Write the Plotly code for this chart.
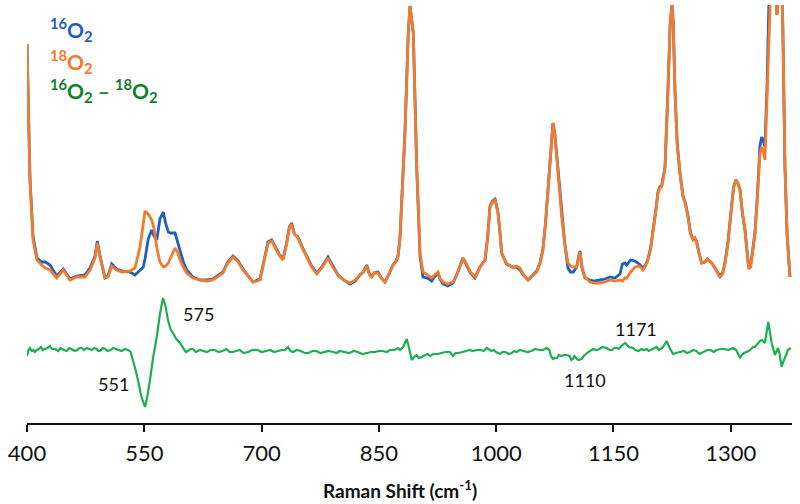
import plotly.graph_objects as go

# Raman shift grid (cm-1) shared by the two spectra
SHIFT = [400.0, 401.3, 403.8, 407.7, 412.8, 418.8, 423.5, 429.4, 434.0, 438.0, 446.4, 455.0, 463.6, 474.2,
         480.6, 487.0, 489.9, 493.4, 499.7, 503.6, 508.3, 514.7, 521.1, 531.7, 538.1, 544.5, 548.7, 550.9,
         555.0, 559.5, 562.5, 565.9, 570.0, 574.3, 577.5, 580.7, 583.5, 589.3, 592.5, 595.7, 600.0, 604.2,
         612.0, 621.2, 630.0, 637.9, 650.6, 656.0, 663.4, 670.0, 676.2, 689.0, 698.0, 703.0, 708.2, 712.9,
         718.0, 723.0, 727.4, 732.0, 735.5, 738.5, 742.0, 746.5, 752.0, 757.7, 764.0, 770.5, 777.0, 784.9,
         791.0, 797.7, 805.0, 813.0, 820.0, 825.8, 830.0, 834.4, 838.0, 840.8, 844.0, 848.8, 853.0, 857.8,
         863.0, 868.0, 872.0, 874.4, 876.9, 880.8, 883.4, 887.6, 889.8, 894.0, 898.4, 902.6, 906.4, 912.0,
         917.5, 921.0, 925.6, 928.0, 932.0, 938.0, 944.8, 951.0, 957.5, 962.0, 967.0, 972.9, 979.3, 985.7,
         989.0, 992.1, 995.5, 998.5, 1002.3, 1005.0, 1007.0, 1013.0, 1021.5, 1026.0, 1030.4, 1035.0, 1040.7,
         1046.0, 1051.8, 1056.0, 1059.8, 1063.0, 1066.2, 1069.5, 1072.6, 1075.0, 1077.4, 1080.5, 1083.8,
         1087.5, 1091.8, 1095.0, 1098.6, 1102.9, 1105.3, 1107.2, 1110.0, 1113.6, 1119.9, 1126.0, 1132.7,
         1139.0, 1145.5, 1152.0, 1158.3, 1161.5, 1164.7, 1166.9, 1172.0, 1177.5, 1183.0, 1187.7, 1191.0,
         1194.1, 1197.5, 1200.5, 1204.0, 1206.9, 1209.0, 1211.6, 1215.9, 1219.7, 1222.5, 1224.8, 1226.5,
         1228.6, 1231.5, 1235.0, 1238.9, 1242.0, 1245.3, 1248.5, 1251.7, 1254.0, 1256.4, 1259.5, 1262.8,
         1267.0, 1270.0, 1275.6, 1280.0, 1283.5, 1286.2, 1289.5, 1292.5, 1296.4, 1300.5, 1303.5, 1306.5,
         1309.5, 1311.8, 1315.0, 1318.0, 1320.4, 1323.0, 1325.5, 1328.0, 1331.0, 1334.0, 1337.3, 1339.5,
         1341.6, 1343.7, 1346.5, 1349.0, 1353.0, 1356.5, 1359.1, 1361.5, 1364.0, 1366.5, 1369.3, 1372.0,
         1375.7]

I_18O2 = [380, 324, 244, 184, 164, 159, 156, 154, 150, 146, 154, 144, 147, 147,
          154, 166, 181, 167, 146, 147, 158, 154, 152, 153, 156, 177, 200, 213,
          210, 204, 195, 177, 162, 157, 158, 161, 166, 176, 172, 164, 157, 151,
          146, 144, 143, 144, 151, 160, 167, 162, 154, 142, 144, 162, 181, 183,
          176, 168, 164, 180, 196, 200, 190, 186, 176, 167, 157, 150, 156, 166,
          157, 149, 144, 141, 144, 149, 152, 158, 149, 147, 151, 151, 146, 142,
          150, 159, 162, 167, 184, 241, 291, 391, 418, 391, 257, 171, 152, 149,
          146, 149, 152, 146, 142, 140, 142, 152, 166, 160, 152, 147, 157, 164,
          185, 217, 222, 224, 211, 190, 171, 161, 156, 158, 156, 149, 144,
          148, 152, 160, 174, 200, 234, 275, 301, 290, 267, 238, 207,
          181, 161, 158, 157, 157, 166, 172, 155, 147, 142, 141, 141,
          142, 144, 143, 144, 143, 146, 146, 152, 157, 158, 154, 158,
          164, 175, 191, 212, 231, 236, 237, 256, 334, 400, 420, 400,
          334, 280, 251, 227, 220, 207, 190, 184, 186, 181, 170, 161,
          162, 165, 161, 156, 150, 147, 150, 160, 181, 215, 236, 244,
          240, 234, 210, 195, 172, 155, 157, 170, 190, 225, 270, 277,
          273, 264, 340, 430, 480, 440, 409, 440, 470, 400, 257, 190,
          147]

I_16O2 = [380, 324, 246, 188, 166, 162, 162, 159, 153, 148, 155, 145, 148, 149,
          156, 168, 183, 168, 146, 148, 160, 155, 153, 152, 149, 154, 157, 165,
          185, 194, 188, 184, 205, 212, 200, 192, 191, 191, 182, 174, 162, 154,
          147, 144, 144, 145, 152, 161, 168, 163, 155, 142, 145, 163, 182, 184,
          177, 169, 165, 181, 197, 201, 190, 187, 177, 168, 158, 151, 157, 167,
          158, 149, 144, 140, 143, 149, 152, 159, 150, 148, 151, 152, 146, 142,
          150, 159, 163, 168, 185, 242, 293, 392, 418, 391, 256, 168, 147, 146,
          143, 147, 151, 145, 140, 138, 141, 152, 166, 159, 151, 146, 157, 164,
          186, 218, 223, 225, 212, 190, 171, 160, 157, 157, 154, 149, 144,
          148, 153, 161, 175, 200, 234, 275, 301, 290, 268, 239, 208,
          182, 156, 152, 152, 157, 167, 173, 155, 146, 144, 143, 144,
          145, 147, 146, 150, 160, 161, 159, 164, 163, 160, 156, 159,
          165, 176, 192, 213, 232, 237, 238, 257, 335, 400, 420, 400,
          334, 280, 251, 228, 221, 208, 191, 185, 186, 182, 171, 161,
          162, 165, 161, 156, 151, 148, 151, 161, 182, 216, 237, 244,
          240, 234, 210, 195, 172, 156, 159, 172, 192, 228, 278, 287,
          283, 277, 342, 430, 480, 440, 409, 440, 470, 400, 257, 190,
          147]

# Difference spectrum (16O2 - 18O2), offset
DIFF_SHIFT = [400, 402, 403.8, 406, 408, 410, 412.4, 415, 418, 420,
              423, 426, 429.4, 432, 436, 440, 443, 447, 450.8, 454,
              457, 461, 464, 467, 470, 473, 476.3, 480, 483, 486,
              489, 491, 493.4, 497, 500, 503, 507, 510, 514.7, 518,
              521, 525, 529.2, 532.5, 535.6, 538.5, 541.9, 546, 550.9, 554,
              557.3, 561, 565.9, 570, 574, 577, 580.3, 583.5, 586.7, 591,
              595.7, 600, 603, 605.9, 609, 612, 616, 621.2, 625, 630,
              635, 640, 645, 650, 655, 659, 663.4, 668, 672, 677,
              683, 688, 695, 700, 706.5, 711, 716, 721, 726, 730,
              733.8, 737, 740.2, 745, 750, 755, 760, 765, 770, 775,
              780, 786, 791.3, 796, 800, 806, 812, 818, 823, 829,
              834.4, 840, 845, 850, 855, 860, 864.2, 870, 874.4, 877,
              881, 885.6, 888, 892, 895, 898.3, 901, 905, 909, 912,
              916, 919.2, 925, 930, 935, 940.9, 944.8, 948, 952, 957,
              962.3, 966, 970, 975, 980, 984, 987.9, 991, 994, 997,
              1000, 1004.9, 1008, 1012, 1016, 1020, 1023, 1026.3, 1030, 1035,
              1040, 1045, 1050, 1055, 1060, 1064.6, 1068, 1070, 1072.7, 1075,
              1078, 1080, 1083, 1087, 1090.2, 1094, 1096, 1098.2, 1100, 1102,
              1105, 1109.3, 1112, 1116, 1120, 1123.8, 1128, 1132, 1136, 1141.3,
              1145, 1148, 1151, 1154.1, 1157, 1160, 1164.7, 1167, 1170, 1174.9,
              1178, 1182, 1186, 1189, 1192.5, 1195, 1198, 1202, 1205.2, 1208,
              1212, 1215, 1218, 1222, 1226.1, 1230, 1235, 1240, 1244, 1247.8,
              1252, 1256, 1260, 1265, 1270, 1274, 1278, 1282, 1287, 1292,
              1297, 1302.8, 1307, 1311.8, 1314, 1317, 1320, 1323, 1326, 1328.4,
              1331, 1333, 1335, 1337.3, 1340, 1343.7, 1345.5, 1347.9, 1350, 1352.3,
              1356.5, 1358.5, 1360.4, 1362.5, 1365.1, 1367, 1369.3, 1373.2, 1376.6]
DIFF = [68, 74, 76, 73, 74, 72, 74, 75, 77, 74,
        75, 76, 78, 75, 75, 73, 76, 74, 73, 76,
        75, 73, 74, 76, 76, 74, 76, 75, 74, 76,
        75, 73, 73, 76, 75, 73, 74, 76, 75, 74,
        73, 75, 74, 72, 64, 55, 44, 28, 17, 28,
        44, 65, 87, 110, 126, 118, 104, 95, 91, 85,
        81, 76, 72, 73, 75, 75, 72, 74, 73, 72,
        74, 74, 72, 73, 75, 72, 72, 73, 74, 71,
        72, 74, 74, 72, 73, 74, 72, 73, 74, 74,
        77, 73, 72, 74, 73, 71, 71, 73, 73, 71,
        72, 73, 72, 71, 73, 72, 71, 73, 72, 70,
        71, 72, 72, 73, 73, 72, 74, 74, 76, 74,
        77, 85, 78, 64, 67, 69, 66, 67, 69, 70,
        68, 70, 70, 71, 72, 72, 68, 71, 71, 72,
        73, 74, 73, 74, 74, 73, 76, 74, 73, 74,
        72, 70, 72, 72, 70, 71, 73, 72, 74, 73,
        72, 73, 75, 74, 74, 76, 74, 68, 65, 66,
        66, 69, 68, 69, 69, 68, 64, 65, 68, 66,
        64, 65, 68, 71, 73, 75, 74, 75, 77, 76,
        74, 74, 76, 76, 75, 78, 81, 79, 77, 76,
        74, 73, 75, 74, 75, 73, 74, 76, 77, 74,
        76, 79, 83, 76, 70, 71, 72, 73, 71, 72,
        74, 73, 70, 72, 74, 74, 72, 74, 75, 75,
        74, 76, 74, 66, 69, 71, 72, 73, 75, 77,
        77, 79, 80, 83, 84, 81, 90, 102, 92, 81,
        69, 72, 76, 70, 57, 62, 67, 74, 76]

TICKS = [400, 550, 700, 850, 1000, 1150, 1300]

BLUE = "#1F5FBF"
ORANGE = "#F47B2C"
GREEN = "#1DAF50"
GREEN_TXT = "#0E8030"

fig = go.Figure()
fig.add_trace(go.Scatter(x=SHIFT, y=I_16O2, mode="lines", line=dict(color=BLUE, width=2.8), name="16O2"))
fig.add_trace(go.Scatter(x=SHIFT, y=I_18O2, mode="lines", line=dict(color=ORANGE, width=2.8), name="18O2"))
fig.add_trace(go.Scatter(x=DIFF_SHIFT, y=DIFF, mode="lines", line=dict(color=GREEN, width=2.2), name="diff"))

FONT = "Lato, 'Open Sans', sans-serif"
ann = []
legend_items = [("<sup>16</sup>O<sub>2</sub>", BLUE, 395),
                ("<sup>18</sup>O<sub>2</sub>", ORANGE, 363),
                ("<sup>16</sup>O<sub>2</sub> – <sup>18</sup>O<sub>2</sub>", GREEN_TXT, 334)]
for txt, col, yy in legend_items:
    ann.append(dict(x=427, y=yy, xref="x", yref="y", text="<b>" + txt + "</b>", showarrow=False,
                    xanchor="left", yanchor="middle", font=dict(family=FONT, size=21, color=col)))
for txt, xx, yy in [("551", 510, 40), ("575", 619, 110), ("1110", 1113, 44), ("1171", 1179, 95)]:
    ann.append(dict(x=xx, y=yy, xref="x", yref="y", text=txt, showarrow=False,
                    xanchor="center", yanchor="middle", font=dict(family=FONT, size=18, color="#111111")))
ann.append(dict(x=(400 - 27) / 765, y=-0.160, xref="paper", yref="paper",
                text="<b>Raman Shift (cm<sup>-1</sup>)</b>", showarrow=False,
                xanchor="center", yanchor="middle", font=dict(family=FONT, size=19, color="#111111")))

fig.update_layout(
    width=800, height=504,
    margin=dict(l=27, r=8, t=5, b=81, autoexpand=False),
    paper_bgcolor="white", plot_bgcolor="white",
    showlegend=False,
    annotations=ann,
    xaxis=dict(range=[400, 1378.3], tickmode="array", tickvals=TICKS, ticktext=[str(t) for t in TICKS],
               automargin=False,
               showgrid=False, zeroline=False, showline=True, linecolor="#111111", linewidth=1.5,
               ticks="outside", ticklen=7, tickwidth=1.5, tickcolor="#111111", ticklabelstandoff=3,
               tickfont=dict(family=FONT, size=22, color="#111111")),
    yaxis=dict(range=[1, 419], visible=False, showgrid=False, zeroline=False, automargin=False),
)

fig.write_html("out.html", config={"displayModeBar": False},
               post_script="document.body.style.margin='0px';document.body.style.overflow='hidden';")
